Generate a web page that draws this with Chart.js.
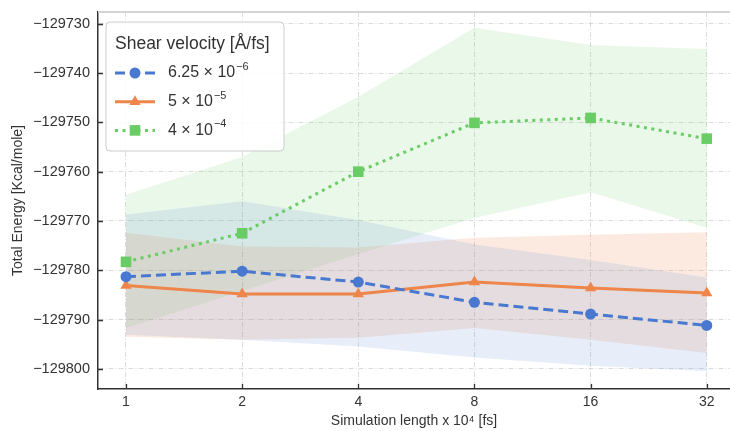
<!DOCTYPE html>
<html>
<head>
<meta charset="utf-8">
<script src="https://cdn.jsdelivr.net/npm/chart.js@4.4.1/dist/chart.umd.min.js"></script>
<style>html,body{margin:0;padding:0;background:#fff;}</style>
</head>
<body>
<canvas id="energychart" width="730" height="431"></canvas>
<script>
// simulation length x 10^4 fs (plotted on a log2 axis)
const xLabels = ['1', '2', '4', '8', '16', '32'];
const yTicks = [-129800, -129790, -129780, -129770, -129760, -129750, -129740, -129730];

// shear velocity 6.25e-6
const slowMean  = [-129781.3, -129780.2, -129782.4, -129786.5, -129788.9, -129791.2];
const slowUpper = [-129768.7, -129766.0, -129769.8, -129774.8, -129777.9, -129781.5];
const slowLower = [-129793.1, -129794.1, -129795.5, -129797.7, -129799.4, -129800.5];
// shear velocity 5e-5
const midMean  = [-129783.1, -129784.8, -129784.8, -129782.4, -129783.6, -129784.6];
const midUpper = [-129772.4, -129775.2, -129775.4, -129773.4, -129772.8, -129772.3];
const midLower = [-129793.5, -129794.1, -129793.7, -129791.7, -129794.1, -129796.8];
// shear velocity 4e-4
const fastMean  = [-129778.3, -129772.5, -129760.0, -129750.1, -129749.1, -129753.3];
const fastUpper = [-129764.7, -129757.0, -129744.8, -129730.8, -129734.3, -129735.1];
const fastLower = [-129791.7, -129784.2, -129776.7, -129769.4, -129764.2, -129771.4];

const legendTitle = 'Shear velocity [Å/fs]';
const legendBase = ['6.25 × 10', '5 × 10', '4 × 10'];
const legendExp = ['−6', '−5', '−4'];

const blue = '#4878D0', orange = '#EE854A', green = '#6ACC64';
const FONT = "'Liberation Sans', Arial, sans-serif";

const pts = arr => arr.map((v, i) => ({x: i, y: v}));

function line(label, data, color, dash, style, radius) {
  return {
    label: label, data: pts(data), borderColor: color, backgroundColor: color,
    borderWidth: 3, borderDash: dash, pointStyle: style, pointRadius: radius,
    pointBorderWidth: 0, pointBackgroundColor: color, fill: false, tension: 0
  };
}
function band(data, color, fill) {
  return {
    data: pts(data), borderWidth: 0, pointRadius: 0, borderColor: 'rgba(0,0,0,0)',
    backgroundColor: color, fill: fill, tension: 0
  };
}

const legendBox = {
  id: 'legendBox',
  afterDraw(chart) {
    const {ctx, chartArea: a} = chart;
    const left = a.left + 8, top = a.top + 10, w = 178, h = 129;
    ctx.save();
    ctx.beginPath();
    ctx.roundRect(left, top, w, h, 4);
    ctx.fillStyle = 'rgba(255,255,255,0.85)';
    ctx.fill();
    ctx.strokeStyle = '#cccccc';
    ctx.lineWidth = 1;
    ctx.stroke();
    ctx.fillStyle = '#333';
    ctx.textBaseline = 'middle';
    ctx.font = '17.5px ' + FONT;
    ctx.fillText(legendTitle, left + 9, top + 22);
    for (let i = 0; i < 3; i++) {
      const ds = chart.data.datasets[i];
      const cy = top + 51 + i * 28.7;
      ctx.strokeStyle = ds.borderColor;
      ctx.lineWidth = ds.borderWidth;
      ctx.setLineDash(ds.borderDash);
      ctx.beginPath();
      ctx.moveTo(left + 9, cy);
      ctx.lineTo(left + 49, cy);
      ctx.stroke();
      ctx.setLineDash([]);
      ctx.fillStyle = ds.borderColor;
      Chart.helpers.drawPoint(ctx, {pointStyle: ds.pointStyle, radius: ds.pointRadius, borderWidth: 0, rotation: 0}, left + 29, cy);
      ctx.fillStyle = '#333';
      ctx.font = '16px ' + FONT;
      ctx.fillText(legendBase[i], left + 62, cy);
      const bw = ctx.measureText(legendBase[i]).width;
      ctx.font = '11px ' + FONT;
      ctx.fillText(legendExp[i], left + 63 + bw, cy - 6);
    }
    ctx.restore();
  }
};

const axisMarks = {
  id: 'axisMarks',
  afterDatasetsDraw(chart) {
    const {ctx, chartArea: a, scales: {x, y}} = chart;
    ctx.save();
    ctx.strokeStyle = '#d4d4d4';
    ctx.lineWidth = 2;
    ctx.beginPath();
    ctx.moveTo(a.left, a.top);
    ctx.lineTo(a.right, a.top);
    ctx.stroke();
    ctx.strokeStyle = '#333';
    ctx.lineWidth = 1.3;
    ctx.beginPath();
    y.ticks.forEach(t => {
      const py = Math.round(y.getPixelForValue(t.value)) + 0.5;
      ctx.moveTo(a.left, py);
      ctx.lineTo(a.left + 5, py);
    });
    x.ticks.forEach(t => {
      const px = Math.round(x.getPixelForValue(t.value)) + 0.5;
      ctx.moveTo(px, a.bottom);
      ctx.lineTo(px, a.bottom - 5);
    });
    ctx.stroke();
    ctx.restore();
  }
};

const ctx = document.getElementById('energychart').getContext('2d');
new Chart(ctx, {
  type: 'line',
  data: {
    datasets: [
      line('6.25e-6', slowMean, blue, [10, 5], 'circle', 5.5),
      line('5e-5', midMean, orange, [], 'triangle', 6.5),
      line('4e-4', fastMean, green, [3, 4.5], 'rect', 7.5),
      band(slowUpper, 'rgba(72,120,208,0.13)', '+1'),
      band(slowLower, 'rgba(0,0,0,0)', false),
      band(midUpper, 'rgba(238,133,74,0.17)', '+1'),
      band(midLower, 'rgba(0,0,0,0)', false),
      band(fastUpper, 'rgba(106,204,100,0.14)', '+1'),
      band(fastLower, 'rgba(0,0,0,0)', false)
    ]
  },
  options: {
    responsive: false,
    devicePixelRatio: 1,
    animation: false,
    events: [],
    layout: {autoPadding: false, padding: {top: 12, right: 0, left: 0, bottom: 0}},
    plugins: {
      legend: {display: false},
      tooltip: {enabled: false}
    },
    scales: {
      x: {
        type: 'linear',
        min: -0.241,
        max: 5.2,
        afterBuildTicks: s => { s.ticks = xLabels.map((_, i) => ({value: i})); },
        afterFit: s => { s.height = 42; s.paddingLeft = 0; s.paddingRight = 0; },
        ticks: {
          callback: v => xLabels[v],
          color: '#333', padding: 5, maxRotation: 0, autoSkip: false,
          font: {family: FONT, size: 14}
        },
        grid: {color: '#d2d2d2', lineWidth: 0.8, drawTicks: false},
        border: {color: '#333', width: 1.5, dash: [5, 2, 1, 2]},
        title: {
          display: true, text: 'Simulation length x 10⁴ [fs]', color: '#333',
          font: {family: FONT, size: 14}, padding: {top: 0, bottom: 1}
        }
      },
      y: {
        min: -129804.1,
        max: -129727.6,
        afterBuildTicks: s => { s.ticks = yTicks.map(v => ({value: v})); },
        afterFit: s => { s.width = 98; s.paddingTop = 0; s.paddingBottom = 0; },
        ticks: {
          callback: v => '−' + Math.abs(v),
          color: '#333', padding: 8,
          font: {family: FONT, size: 14.5}
        },
        grid: {color: '#d2d2d2', lineWidth: 0.8, drawTicks: false},
        border: {color: '#333', width: 1.5, dash: [5, 2, 1, 2]},
        title: {
          display: true, text: 'Total Energy [Kcal/mole]', color: '#333',
          font: {family: FONT, size: 14}, padding: {top: 10, bottom: 0}
        }
      }
    }
  },
  plugins: [axisMarks, legendBox]
});
</script>
</body>
</html>
